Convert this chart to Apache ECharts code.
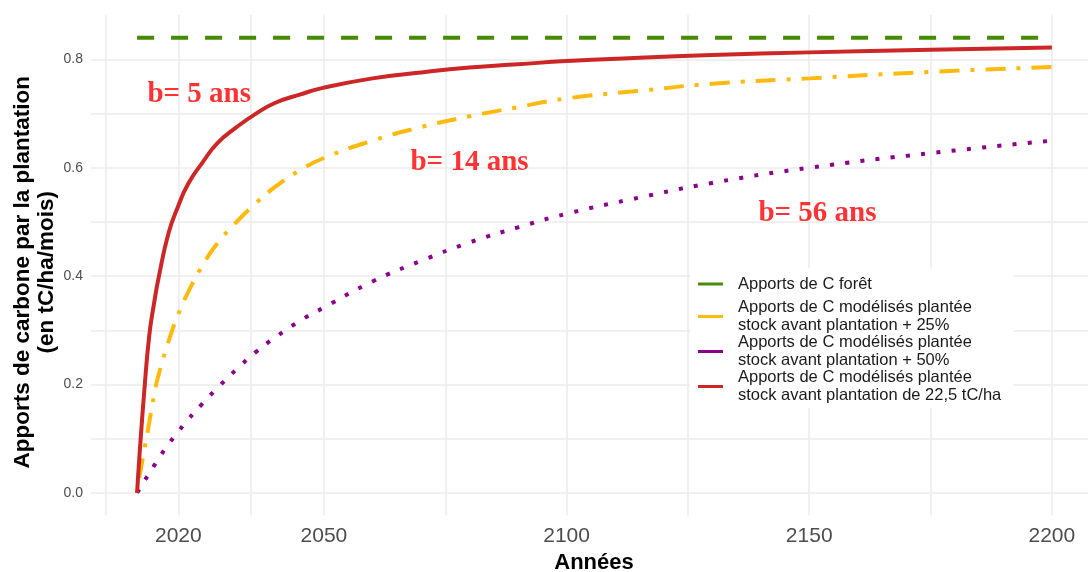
<!DOCTYPE html>
<html>
<head>
<meta charset="utf-8">
<script src="https://cdn.jsdelivr.net/npm/echarts@6/dist/echarts.min.js"></script>
<style>
html,body{margin:0;padding:0;background:#fff;}
#chart{width:1088px;height:572px;}
</style>
</head>
<body>
<div id="chart"></div>
<script>
// ---- data ----
var years = [2011.5, 2012, 2013, 2014, 2015, 2016, 2018, 2020, 2022, 2025, 2028, 2032, 2036, 2040, 2045, 2050, 2060, 2070, 2080, 2090, 2100, 2115, 2130, 2150, 2175, 2200];
var stock22 = [0, 0.07, 0.19, 0.29, 0.35, 0.40, 0.48, 0.53, 0.57, 0.61, 0.645, 0.675, 0.70, 0.72, 0.735, 0.748, 0.765, 0.776, 0.785, 0.791, 0.797, 0.803, 0.808, 0.813, 0.818, 0.822];
var stock25 = [0, 0.03, 0.08, 0.13, 0.18, 0.22, 0.28, 0.33, 0.37, 0.42, 0.46, 0.50, 0.535, 0.565, 0.595, 0.618, 0.65, 0.675, 0.695, 0.712, 0.728, 0.742, 0.755, 0.765, 0.777, 0.786];
var stock50 = [0, 0.007, 0.022, 0.035, 0.05, 0.064, 0.09, 0.113, 0.135, 0.165, 0.193, 0.228, 0.26, 0.287, 0.317, 0.342, 0.39, 0.428, 0.462, 0.49, 0.515, 0.545, 0.572, 0.60, 0.627, 0.65];
var foretYears = [2011.5, 2200];
var foretValues = [0.84, 0.84];

var xLabelValues = [2020, 2050, 2100, 2150, 2200];
var xGridValues = [2005, 2020, 2035, 2050, 2075, 2100, 2125, 2150, 2175, 2200];
var yLabelValues = [0, 0.2, 0.4, 0.6, 0.8];
var yGridValues = [0, 0.1, 0.2, 0.3, 0.4, 0.5, 0.6, 0.7, 0.8];

var annotText = ['b= 5 ans', 'b= 14 ans', 'b= 56 ans'];
var annotX = [2024.3, 2080, 2151.7];
var annotY = [0.736, 0.61, 0.516];

var nameForet = 'Apports de C forêt';
var name25 = 'Apports de C modélisés plantée\nstock avant plantation + 25%';
var name50 = 'Apports de C modélisés plantée\nstock avant plantation + 50%';
var name22 = 'Apports de C modélisés plantée\nstock avant plantation de 22,5 tC/ha';

function pairs(xs, ys) { return xs.map(function (x, i) { return [x, ys[i]]; }); }

var chart = echarts.init(document.getElementById('chart'), null, {renderer: 'canvas'});
var sansFont = 'Liberation Sans, Arial, sans-serif';

var option = {
  animation: false,
  backgroundColor: '#ffffff',
  grid: {left: 91, top: 15, width: 1006, height: 500.5, containLabel: false, outerBoundsMode: 'none'},
  xAxis: {
    type: 'value',
    min: 2002.0,
    max: 2209.3,
    name: 'Années',
    nameLocation: 'middle',
    nameGap: 36,
    nameMoveOverlap: false,
    nameTextStyle: {fontFamily: sansFont, fontWeight: 'bold', fontSize: 22, color: '#000', lineHeight: 22},
    axisLine: {show: false},
    axisTick: {show: false, customValues: xGridValues},
    axisLabel: {customValues: xLabelValues, fontFamily: sansFont, fontSize: 21, color: '#4d4d4d', margin: 10,
      formatter: function (v) { return String(v); }},
    splitLine: {show: true, lineStyle: {color: '#ebebeb', width: 1.5}}
  },
  yAxis: {
    type: 'value',
    min: -0.042,
    max: 0.882,
    name: 'Apports de carbone par la plantation\n(en tC/ha/mois)',
    nameLocation: 'middle',
    nameGap: 32,
    nameMoveOverlap: false,
    nameRotate: 90,
    nameTextStyle: {fontFamily: sansFont, fontWeight: 'bold', fontSize: 22.5, color: '#000', lineHeight: 24, align: 'center', padding: [0, 14, 0, 0]},
    axisLine: {show: false},
    axisTick: {show: false, customValues: yGridValues},
    axisLabel: {customValues: yLabelValues, fontFamily: sansFont, fontSize: 14, color: '#4d4d4d', margin: 8,
      formatter: function (v) { return v.toFixed(1); }},
    splitLine: {show: true, lineStyle: {color: '#ebebeb', width: 1.5}}
  },
  legend: {
    orient: 'vertical',
    left: 690,
    top: 268,
    padding: [1, 12, 4, 8],
    backgroundColor: '#ffffff',
    itemGap: 0,
    itemWidth: 25,
    itemHeight: 3,
    icon: 'rect',
    textStyle: {fontFamily: sansFont, fontSize: 16.5, color: '#1a1a1a', lineHeight: 17.5, padding: [0, 0, 0, 10]},
    data: [
      {name: nameForet, textStyle: {lineHeight: 30}},
      {name: name25},
      {name: name50},
      {name: name22}
    ]
  },
  series: [
    {
      name: nameForet, type: 'line', showSymbol: false, silent: true,
      data: pairs(foretYears, foretValues),
      itemStyle: {color: '#458b00'},
      lineStyle: {color: '#458b00', width: 4, type: [17, 17]},
      z: 3
    },
    {
      name: name25, type: 'line', showSymbol: false, silent: true, smooth: 0.5,
      data: pairs(years, stock25),
      itemStyle: {color: '#ffb90f'},
      lineStyle: {color: '#ffb90f', width: 4, type: [4, 11, 20, 11]},
      z: 3
    },
    {
      name: name50, type: 'line', showSymbol: false, silent: true, smooth: 0.5,
      data: pairs(years, stock50),
      itemStyle: {color: '#8b008b'},
      lineStyle: {color: '#8b008b', width: 4, type: [4, 11.3]},
      z: 3
    },
    {
      name: name22, type: 'line', showSymbol: false, silent: true, smooth: 0.5,
      data: pairs(years, stock22),
      itemStyle: {color: '#cd2626'},
      lineStyle: {color: '#cd2626', width: 4},
      z: 4
    },
    {
      name: 'annotations', type: 'scatter', silent: true, symbolSize: 0,
      data: annotText.map(function (t, i) { return {name: t, value: [annotX[i], annotY[i]]}; }),
      label: {
        show: true, position: 'inside',
        formatter: function (p) { return p.name; },
        fontFamily: 'Liberation Serif, Times New Roman, serif', fontWeight: 'bold', fontSize: 29, color: '#ff0000'
      },
      z: 5
    }
  ]
};
chart.setOption(option);
</script>
</body>
</html>
